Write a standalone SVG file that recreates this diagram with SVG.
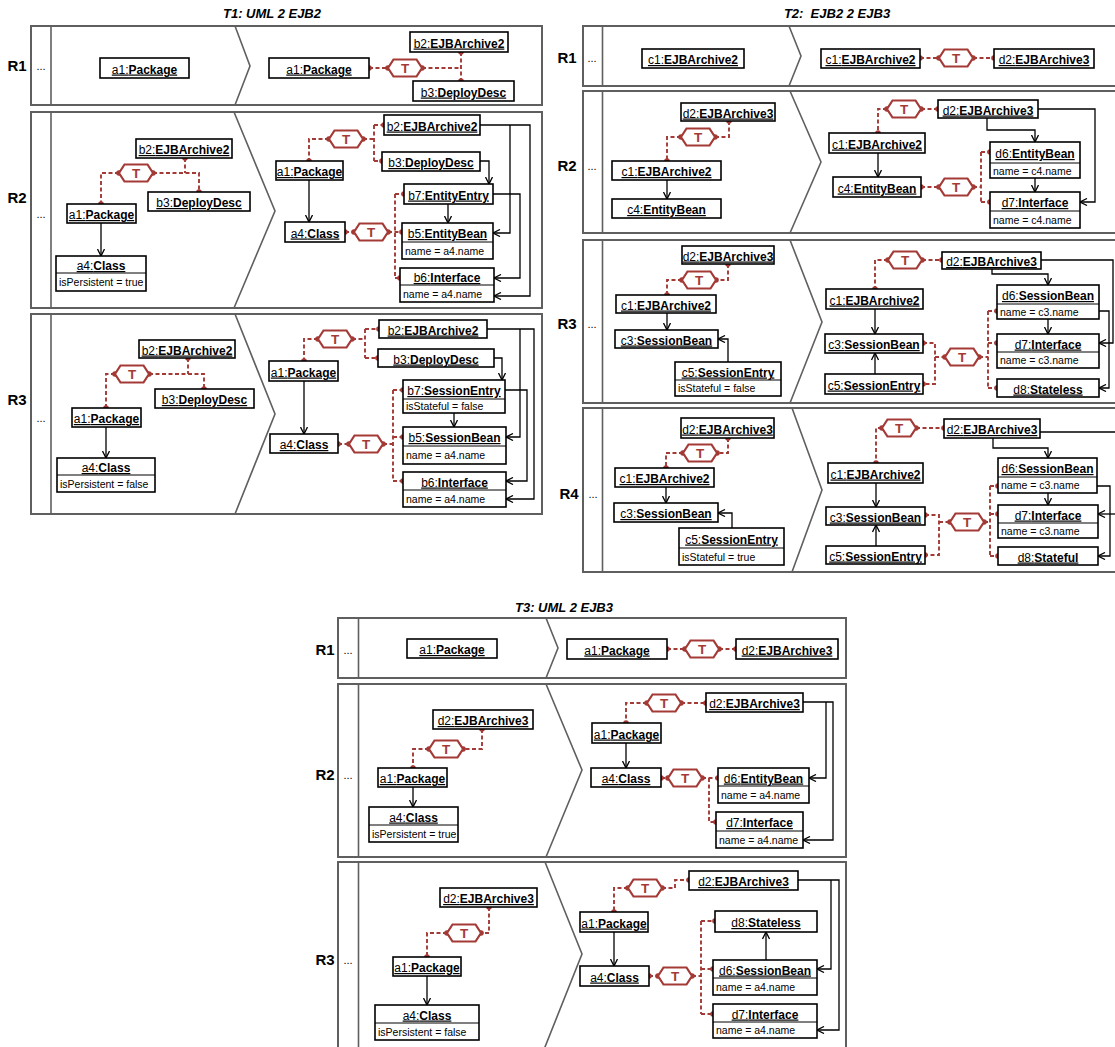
<svg xmlns="http://www.w3.org/2000/svg" xmlns:xlink="http://www.w3.org/1999/xlink" width="1115" height="1047" viewBox="0 0 1115 1047">
<style>
.bg{fill:#fff}
.panel{fill:none;stroke:#5f5f5f;stroke-width:2}
.dv{fill:none;stroke:#5f5f5f;stroke-width:1.6}
.box{fill:#fff;stroke:#000;stroke-width:1.6}
.sep{stroke:#000;stroke-width:1}
.hd{font-family:"Liberation Sans",Arial,sans-serif;font-size:12px;text-anchor:middle;text-decoration:underline;fill:#000;transform:translate(0px,1.5px)}
.b{font-weight:bold}
.at{font-family:"Liberation Sans",Arial,sans-serif;font-size:10.5px;fill:#000}
.rl{font-family:"Liberation Sans",Arial,sans-serif;font-size:15px;font-weight:bold;text-anchor:middle}
.dd{font-family:"Liberation Sans",Arial,sans-serif;font-size:11px;text-anchor:middle}
.ttl{font-family:"Liberation Sans",Arial,sans-serif;font-size:13px;font-weight:bold;font-style:italic;text-anchor:middle}
.tr{fill:none;stroke:#a33a36;stroke-width:1.9;stroke-dasharray:4 2.5}
.dot{fill:#a33a36}
.hex{fill:#fff;stroke:#a33a36;stroke-width:2.2}
.ht{font-family:"Liberation Sans",Arial,sans-serif;font-size:13.5px;font-weight:bold;fill:#a33a36;text-anchor:middle}
.ar{fill:none;stroke:#000;stroke-width:1.3;marker-end:url(#ah)}
</style>
<defs>
<marker id="ah" viewBox="0 0 8 8" refX="7.5" refY="4" markerWidth="8" markerHeight="8" markerUnits="userSpaceOnUse" orient="auto">
<path d="M0.5,0.5 L7.5,4 L0.5,7.5" fill="none" stroke="#000" stroke-width="1.3"/>
</marker>
<path id="hx" d="M-17,0 L-11.5,-8.5 L11.5,-8.5 L17,0 L11.5,8.5 L-11.5,8.5 Z"/>
</defs>
<rect class="bg" x="0" y="0" width="1115" height="1047"/>

<!-- titles -->
<text class="ttl" x="272" y="18">T1: UML 2 EJB2</text>
<text class="ttl" x="837" y="18" xml:space="preserve">T2:  EJB2 2 EJB3</text>
<text class="ttl" x="564" y="612">T3: UML 2 EJB3</text>

<!-- panels -->
<g id="panels">
<rect class="panel" x="31" y="26" width="511" height="79"/><line class="dv" x1="51" y1="26" x2="51" y2="105"/><polyline class="dv" points="235,26 250,66 235,105"/>
<rect class="panel" x="31" y="112" width="511" height="196"/><line class="dv" x1="51" y1="112" x2="51" y2="308"/><polyline class="dv" points="234,112 275,211 234,308"/>
<rect class="panel" x="31" y="314" width="511" height="200"/><line class="dv" x1="51" y1="314" x2="51" y2="514"/><polyline class="dv" points="235,314 275,414 235,514"/>
<rect class="panel" x="583" y="26" width="545" height="60"/><line class="dv" x1="602.5" y1="26" x2="602.5" y2="86"/><polyline class="dv" points="789,26 801,56 789,86"/>
<rect class="panel" x="583" y="91" width="545" height="142"/><line class="dv" x1="602.5" y1="91" x2="602.5" y2="233"/><polyline class="dv" points="790,91 821,162 790,233"/>
<rect class="panel" x="583" y="240" width="545" height="163"/><line class="dv" x1="602.5" y1="240" x2="602.5" y2="403"/><polyline class="dv" points="790,240 822,322 790,403"/>
<rect class="panel" x="583" y="408" width="545" height="164"/><line class="dv" x1="602.5" y1="408" x2="602.5" y2="572"/><polyline class="dv" points="792,408 822,490 792,572"/>
<rect class="panel" x="338" y="618" width="508" height="60"/><line class="dv" x1="358.5" y1="618" x2="358.5" y2="678"/><polyline class="dv" points="546,618 558,648 546,678"/>
<rect class="panel" x="338" y="684" width="508" height="173"/><line class="dv" x1="358.5" y1="684" x2="358.5" y2="857"/><polyline class="dv" points="546,684 582,770 546,857"/>
<rect class="panel" x="338" y="862" width="508" height="200"/><line class="dv" x1="358.5" y1="862" x2="358.5" y2="1062"/><polyline class="dv" points="545,862 582,954 543,1052"/>
</g>

<g id="labels">
<text class="rl" x="17" y="71">R1</text><text class="dd" x="41" y="70">...</text>
<text class="rl" x="17" y="203">R2</text><text class="dd" x="41" y="218">...</text>
<text class="rl" x="17" y="405">R3</text><text class="dd" x="41" y="422">...</text>
<text class="rl" x="567" y="63">R1</text><text class="dd" x="592" y="62">...</text>
<text class="rl" x="567" y="171">R2</text><text class="dd" x="592" y="170">...</text>
<text class="rl" x="567" y="329">R3</text><text class="dd" x="592" y="328">...</text>
<text class="rl" x="569" y="499">R4</text><text class="dd" x="593" y="498">...</text>
<text class="rl" x="325" y="655">R1</text><text class="dd" x="348" y="654">...</text>
<text class="rl" x="325" y="780">R2</text><text class="dd" x="348" y="779">...</text>
<text class="rl" x="325" y="965">R3</text><text class="dd" x="348" y="964">...</text>
</g>

<!-- connectors -->
<g id="connectors">
<!-- T1 R1 -->
<path class="tr" d="M369,68 H388 M422,68 H461 M461,52 V81"/>
<g class="dot"><circle cx="369" cy="68" r="2.8"/><circle cx="388" cy="68" r="2.8"/><circle cx="422" cy="68" r="2.8"/><circle cx="461" cy="52" r="2.8"/><circle cx="461" cy="81" r="2.8"/></g>
<!-- T1 R2 left -->
<path class="tr" d="M185,158 V173 M153,173 H199 V192 M119,173 H101 V204"/>
<g class="dot"><circle cx="185" cy="158" r="2.8"/><circle cx="153" cy="173" r="2.8"/><circle cx="199" cy="192" r="2.8"/><circle cx="119" cy="173" r="2.8"/><circle cx="101" cy="204" r="2.8"/></g>
<path class="ar" d="M101,223 V256"/>
<!-- T1 R2 right -->
<path class="tr" d="M329,139 H309 V161 M363,139 H374 M374,125 V161 M374,125 H384 M374,161 H382 M345,232 H354 M388,232 H402 M395,194 V278 M395,194 H404 M395,278 H400"/>
<g class="dot"><circle cx="329" cy="139" r="2.8"/><circle cx="309" cy="161" r="2.8"/><circle cx="363" cy="139" r="2.8"/><circle cx="384" cy="125" r="2.8"/><circle cx="382" cy="161" r="2.8"/><circle cx="345" cy="232" r="2.8"/><circle cx="354" cy="232" r="2.8"/><circle cx="388" cy="232" r="2.8"/><circle cx="402" cy="232" r="2.8"/><circle cx="404" cy="194" r="2.8"/><circle cx="400" cy="278" r="2.8"/></g>
<path class="ar" d="M309,180 V222"/>
<path class="ar" d="M480,125 H530 V296 H494"/>
<path class="ar" d="M510,125 V233 H493"/>
<path class="ar" d="M480,161 H489 V184"/>
<path class="ar" d="M493,194 H520 V278 H494"/>
<path class="ar" d="M448,204 V223"/>
<!-- T1 R3 left -->
<path class="tr" d="M188,358 V374 M149,374 H204 V389 M115,374 H106 V408"/>
<g class="dot"><circle cx="188" cy="358" r="2.8"/><circle cx="149" cy="374" r="2.8"/><circle cx="204" cy="389" r="2.8"/><circle cx="115" cy="374" r="2.8"/><circle cx="106" cy="408" r="2.8"/></g>
<path class="ar" d="M106,427 V458"/>
<!-- T1 R3 right -->
<path class="tr" d="M318,339 H304 V361 M352,339 H365 M365,329 V358 M365,329 H379 M365,358 H378 M338,444 H349 M383,444 H393 M393,390 V481 M393,390 H403 M393,437 H403 M393,481 H403"/>
<g class="dot"><circle cx="318" cy="339" r="2.8"/><circle cx="304" cy="361" r="2.8"/><circle cx="352" cy="339" r="2.8"/><circle cx="379" cy="329" r="2.8"/><circle cx="378" cy="358" r="2.8"/><circle cx="338" cy="444" r="2.8"/><circle cx="349" cy="444" r="2.8"/><circle cx="383" cy="444" r="2.8"/><circle cx="403" cy="390" r="2.8"/><circle cx="403" cy="437" r="2.8"/><circle cx="403" cy="481" r="2.8"/></g>
<path class="ar" d="M304,381 V434"/>
<path class="ar" d="M487,329 H534 V499 H506"/>
<path class="ar" d="M520,329 V437 H506"/>
<path class="ar" d="M494,358 H502 V380"/>
<path class="ar" d="M505,390 H527 V481 H506"/>
<path class="ar" d="M454,413 V427"/>
<!-- T2 R1 -->
<path class="tr" d="M920,58 H939 M973,58 H994"/>
<g class="dot"><circle cx="920" cy="58" r="2.8"/><circle cx="939" cy="58" r="2.8"/><circle cx="973" cy="58" r="2.8"/><circle cx="994" cy="58" r="2.8"/></g>
<!-- T2 R2 left -->
<path class="tr" d="M729,121 V137 H715 M681,137 H667 V161"/>
<g class="dot"><circle cx="729" cy="121" r="2.8"/><circle cx="715" cy="137" r="2.8"/><circle cx="681" cy="137" r="2.8"/><circle cx="667" cy="161" r="2.8"/></g>
<path class="ar" d="M667,180 V199"/>
<!-- T2 R2 right -->
<path class="tr" d="M887,109 H878 V133 M921,109 H938 M921,187 H939 M973,187 H981 M981,152 V202 M981,152 H990 M981,202 H990"/>
<g class="dot"><circle cx="887" cy="109" r="2.8"/><circle cx="878" cy="133" r="2.8"/><circle cx="921" cy="109" r="2.8"/><circle cx="938" cy="109" r="2.8"/><circle cx="921" cy="187" r="2.8"/><circle cx="939" cy="187" r="2.8"/><circle cx="973" cy="187" r="2.8"/><circle cx="990" cy="152" r="2.8"/><circle cx="990" cy="202" r="2.8"/></g>
<path class="ar" d="M878,153 V177"/>
<path class="ar" d="M1038,109 H1095 V202 H1080"/>
<path class="ar" d="M987,118 V130 H1035 V142"/>
<path class="ar" d="M1035,178 V192"/>
<!-- T2 R3 left -->
<path class="tr" d="M728,264 V280 H716 M682,280 H667 V295"/>
<g class="dot"><circle cx="728" cy="264" r="2.8"/><circle cx="716" cy="280" r="2.8"/><circle cx="682" cy="280" r="2.8"/><circle cx="667" cy="295" r="2.8"/></g>
<path class="ar" d="M667,313 V330"/>
<path class="ar" d="M728,362 V339 H718"/>
<!-- T2 R3 right -->
<path class="tr" d="M888,260 H875 V289 M922,260 H942 M923,343 H935 V384 H923 M935,357 H945 M979,357 H988 M988,311 V388 M988,311 H997 M988,343 H997 M988,388 H997"/>
<g class="dot"><circle cx="888" cy="260" r="2.8"/><circle cx="875" cy="289" r="2.8"/><circle cx="922" cy="260" r="2.8"/><circle cx="942" cy="260" r="2.8"/><circle cx="923" cy="343" r="2.8"/><circle cx="923" cy="384" r="2.8"/><circle cx="945" cy="357" r="2.8"/><circle cx="979" cy="357" r="2.8"/><circle cx="997" cy="311" r="2.8"/><circle cx="997" cy="343" r="2.8"/><circle cx="997" cy="388" r="2.8"/></g>
<path class="ar" d="M875,309 V334"/>
<path class="ar" d="M875,374 V353"/>
<path class="ar" d="M1041,260 H1113 V343 H1099"/>
<path class="ar" d="M992,269 V274 H1048 V285"/>
<path class="ar" d="M1048,319 V334"/>
<path class="ar" d="M1099,311 H1109 V388 H1099"/>
<!-- T2 R4 left -->
<path class="tr" d="M728,438 V453 H717 M683,453 H666 V468"/>
<g class="dot"><circle cx="728" cy="438" r="2.8"/><circle cx="717" cy="453" r="2.8"/><circle cx="683" cy="453" r="2.8"/><circle cx="666" cy="468" r="2.8"/></g>
<path class="ar" d="M666,487 V503"/>
<path class="ar" d="M732,528 V513 H718"/>
<!-- T2 R4 right -->
<path class="tr" d="M882,428 H876 V463 M916,428 H944 M925,515 H939 V555 H925 M939,522 H950 M984,522 H990 M990,486 V556 M990,486 H998 M990,514 H998 M990,556 H998"/>
<g class="dot"><circle cx="882" cy="428" r="2.8"/><circle cx="876" cy="463" r="2.8"/><circle cx="916" cy="428" r="2.8"/><circle cx="944" cy="428" r="2.8"/><circle cx="925" cy="515" r="2.8"/><circle cx="925" cy="555" r="2.8"/><circle cx="950" cy="522" r="2.8"/><circle cx="984" cy="522" r="2.8"/><circle cx="998" cy="486" r="2.8"/><circle cx="998" cy="514" r="2.8"/><circle cx="998" cy="556" r="2.8"/></g>
<path class="ar" d="M876,483 V507"/>
<path class="ar" d="M876,546 V525"/>
<path class="ar" d="M1040,432 H1125"/>
<path class="ar" d="M1125,514 H1098"/>
<path class="ar" d="M993,438 V448 H1048 V458"/>
<path class="ar" d="M1048,493 V505"/>
<path class="ar" d="M1097,486 H1110 V556 H1098"/>
<!-- T3 R1 -->
<path class="tr" d="M667,649 H685 M719,649 H736"/>
<g class="dot"><circle cx="667" cy="649" r="2.8"/><circle cx="685" cy="649" r="2.8"/><circle cx="719" cy="649" r="2.8"/><circle cx="736" cy="649" r="2.8"/></g>
<!-- T3 R2 left -->
<path class="tr" d="M482,729 V749 H463 M429,749 H413 V768"/>
<g class="dot"><circle cx="482" cy="729" r="2.8"/><circle cx="463" cy="749" r="2.8"/><circle cx="429" cy="749" r="2.8"/><circle cx="413" cy="768" r="2.8"/></g>
<path class="ar" d="M413,787 V807"/>
<!-- T3 R2 right -->
<path class="tr" d="M647,703 H626 V723 M681,703 H706 M661,778 H668 M702,778 H718 M709,778 V822 H716"/>
<g class="dot"><circle cx="647" cy="703" r="2.8"/><circle cx="626" cy="723" r="2.8"/><circle cx="681" cy="703" r="2.8"/><circle cx="706" cy="703" r="2.8"/><circle cx="661" cy="778" r="2.8"/><circle cx="668" cy="778" r="2.8"/><circle cx="702" cy="778" r="2.8"/><circle cx="718" cy="778" r="2.8"/><circle cx="716" cy="822" r="2.8"/></g>
<path class="ar" d="M626,743 V768"/>
<path class="ar" d="M803,702 H833 V840 H803"/>
<path class="ar" d="M826,702 V778 H809"/>
<!-- T3 R3 left -->
<path class="tr" d="M489,907 V933 H481 M447,933 H427 V957"/>
<g class="dot"><circle cx="489" cy="907" r="2.8"/><circle cx="481" cy="933" r="2.8"/><circle cx="447" cy="933" r="2.8"/><circle cx="427" cy="957" r="2.8"/></g>
<path class="ar" d="M427,976 V1005"/>
<!-- T3 R3 right -->
<path class="tr" d="M628,888 H614 V912 M662,888 H675 V880 H689 M649,976 H658 M692,976 H701 M701,921 V1014 M701,921 H715 M701,969 H713 M701,1014 H713"/>
<g class="dot"><circle cx="628" cy="888" r="2.8"/><circle cx="614" cy="912" r="2.8"/><circle cx="662" cy="888" r="2.8"/><circle cx="689" cy="880" r="2.8"/><circle cx="649" cy="976" r="2.8"/><circle cx="658" cy="976" r="2.8"/><circle cx="692" cy="976" r="2.8"/><circle cx="715" cy="921" r="2.8"/><circle cx="713" cy="969" r="2.8"/><circle cx="713" cy="1014" r="2.8"/></g>
<path class="ar" d="M614,932 V966"/>
<path class="ar" d="M798,880 H839 V1030 H817"/>
<path class="ar" d="M831,880 V969 H817"/>
<path class="ar" d="M766,960 V932"/>
</g>

<!-- transformation markers -->
<g id="t1r1-t"><use href="#hx" class="hex" x="405" y="68"/><text class="ht" x="405" y="73">T</text></g>
<g id="t1r2-tl"><use href="#hx" class="hex" x="136" y="173"/><text class="ht" x="136" y="178">T</text></g>
<g id="t1r2-tr1"><use href="#hx" class="hex" x="346" y="139"/><text class="ht" x="346" y="144">T</text></g>
<g id="t1r2-tr2"><use href="#hx" class="hex" x="371" y="232"/><text class="ht" x="371" y="237">T</text></g>
<g id="t1r3-tl"><use href="#hx" class="hex" x="132" y="374"/><text class="ht" x="132" y="379">T</text></g>
<g id="t1r3-tr1"><use href="#hx" class="hex" x="335" y="339"/><text class="ht" x="335" y="344">T</text></g>
<g id="t1r3-tr2"><use href="#hx" class="hex" x="366" y="444"/><text class="ht" x="366" y="449">T</text></g>
<g id="t2r1-t"><use href="#hx" class="hex" x="956" y="58"/><text class="ht" x="956" y="63">T</text></g>
<g id="t2r2-tl"><use href="#hx" class="hex" x="698" y="137"/><text class="ht" x="698" y="142">T</text></g>
<g id="t2r2-tr1"><use href="#hx" class="hex" x="904" y="109"/><text class="ht" x="904" y="114">T</text></g>
<g id="t2r2-tr2"><use href="#hx" class="hex" x="956" y="187"/><text class="ht" x="956" y="192">T</text></g>
<g id="t2r3-tl"><use href="#hx" class="hex" x="699" y="280"/><text class="ht" x="699" y="285">T</text></g>
<g id="t2r3-tr1"><use href="#hx" class="hex" x="905" y="260"/><text class="ht" x="905" y="265">T</text></g>
<g id="t2r3-tr2"><use href="#hx" class="hex" x="962" y="357"/><text class="ht" x="962" y="362">T</text></g>
<g id="t2r4-tl"><use href="#hx" class="hex" x="700" y="453"/><text class="ht" x="700" y="458">T</text></g>
<g id="t2r4-tr1"><use href="#hx" class="hex" x="899" y="428"/><text class="ht" x="899" y="433">T</text></g>
<g id="t2r4-tr2"><use href="#hx" class="hex" x="967" y="522"/><text class="ht" x="967" y="527">T</text></g>
<g id="t3r1-t"><use href="#hx" class="hex" x="702" y="649"/><text class="ht" x="702" y="654">T</text></g>
<g id="t3r2-tl"><use href="#hx" class="hex" x="446" y="749"/><text class="ht" x="446" y="754">T</text></g>
<g id="t3r2-tr1"><use href="#hx" class="hex" x="664" y="703"/><text class="ht" x="664" y="708">T</text></g>
<g id="t3r2-tr2"><use href="#hx" class="hex" x="685" y="778"/><text class="ht" x="685" y="783">T</text></g>
<g id="t3r3-tl"><use href="#hx" class="hex" x="464" y="933"/><text class="ht" x="464" y="938">T</text></g>
<g id="t3r3-tr1"><use href="#hx" class="hex" x="645" y="888"/><text class="ht" x="645" y="893">T</text></g>
<g id="t3r3-tr2"><use href="#hx" class="hex" x="675" y="976"/><text class="ht" x="675" y="981">T</text></g>

<!-- T1 R1 nodes -->
<g id="t1r1-a1-l"><rect class="box" x="100" y="58" width="89" height="20"/><text class="hd" x="144.5" y="72">a1:<tspan class="b">Package</tspan></text></g>
<g id="t1r1-a1-r"><rect class="box" x="269" y="58" width="100" height="20"/><text class="hd" x="319" y="72">a1:<tspan class="b">Package</tspan></text></g>
<g id="t1r1-b2"><rect class="box" x="410" y="32" width="98" height="20"/><text class="hd" x="459" y="46">b2:<tspan class="b">EJBArchive2</tspan></text></g>
<g id="t1r1-b3"><rect class="box" x="413" y="81" width="101" height="20"/><text class="hd" x="463.5" y="95">b3:<tspan class="b">DeployDesc</tspan></text></g>

<!-- T1 R2 nodes -->
<g id="t1r2-b2-l"><rect class="box" x="136" y="139" width="96" height="19"/><text class="hd" x="184" y="152.5">b2:<tspan class="b">EJBArchive2</tspan></text></g>
<g id="t1r2-b3-l"><rect class="box" x="148" y="192" width="102" height="19"/><text class="hd" x="199" y="205.5">b3:<tspan class="b">DeployDesc</tspan></text></g>
<g id="t1r2-a1-l"><rect class="box" x="67" y="204" width="69" height="19"/><text class="hd" x="101.5" y="217.5">a1:<tspan class="b">Package</tspan></text></g>
<g id="t1r2-a4-l"><rect class="box" x="56" y="256" width="90" height="35"/><line class="sep" x1="56" y1="273" x2="146" y2="273"/><text class="hd" x="101" y="268.5">a4:<tspan class="b">Class</tspan></text><text class="at" x="59" y="286">isPersistent = true</text></g>
<g id="t1r2-b2-r"><rect class="box" x="384" y="115" width="96" height="20"/><text class="hd" x="432" y="129">b2:<tspan class="b">EJBArchive2</tspan></text></g>
<g id="t1r2-b3-r"><rect class="box" x="382" y="152" width="98" height="19"/><text class="hd" x="431" y="165.5">b3:<tspan class="b">DeployDesc</tspan></text></g>
<g id="t1r2-a1-r"><rect class="box" x="276" y="161" width="67" height="19"/><text class="hd" x="309.5" y="174.5">a1:<tspan class="b">Package</tspan></text></g>
<g id="t1r2-a4-r"><rect class="box" x="285" y="222" width="60" height="20"/><text class="hd" x="315" y="236">a4:<tspan class="b">Class</tspan></text></g>
<g id="t1r2-b7"><rect class="box" x="404" y="184" width="89" height="20"/><text class="hd" x="448.5" y="198">b7:<tspan class="b">EntityEntry</tspan></text></g>
<g id="t1r2-b5"><rect class="box" x="402" y="223" width="91" height="36"/><line class="sep" x1="402" y1="242" x2="493" y2="242"/><text class="hd" x="447.5" y="236.5">b5:<tspan class="b">EntityBean</tspan></text><text class="at" x="405" y="254.5">name = a4.name</text></g>
<g id="t1r2-b6"><rect class="box" x="400" y="268" width="94" height="34"/><line class="sep" x1="400" y1="285" x2="494" y2="285"/><text class="hd" x="447" y="280.5">b6:<tspan class="b">Interface</tspan></text><text class="at" x="403" y="297.5">name = a4.name</text></g>

<!-- T1 R3 nodes -->
<g id="t1r3-b2-l"><rect class="box" x="139" y="340" width="96" height="18"/><text class="hd" x="187" y="353">b2:<tspan class="b">EJBArchive2</tspan></text></g>
<g id="t1r3-b3-l"><rect class="box" x="155" y="389" width="99" height="19"/><text class="hd" x="204.5" y="402.5">b3:<tspan class="b">DeployDesc</tspan></text></g>
<g id="t1r3-a1-l"><rect class="box" x="72" y="408" width="69" height="19"/><text class="hd" x="106.5" y="421.5">a1:<tspan class="b">Package</tspan></text></g>
<g id="t1r3-a4-l"><rect class="box" x="57" y="458" width="98" height="34"/><line class="sep" x1="57" y1="475" x2="155" y2="475"/><text class="hd" x="106" y="470.5">a4:<tspan class="b">Class</tspan></text><text class="at" x="60" y="487.5">isPersistent = false</text></g>
<g id="t1r3-b2-r"><rect class="box" x="379" y="320" width="108" height="18"/><text class="hd" x="433" y="333">b2:<tspan class="b">EJBArchive2</tspan></text></g>
<g id="t1r3-b3-r"><rect class="box" x="378" y="349" width="116" height="18"/><text class="hd" x="436" y="362">b3:<tspan class="b">DeployDesc</tspan></text></g>
<g id="t1r3-a1-r"><rect class="box" x="269" y="361" width="69" height="20"/><text class="hd" x="303.5" y="375">a1:<tspan class="b">Package</tspan></text></g>
<g id="t1r3-a4-r"><rect class="box" x="270" y="434" width="68" height="19"/><text class="hd" x="304" y="447.5">a4:<tspan class="b">Class</tspan></text></g>
<g id="t1r3-b7"><rect class="box" x="403" y="380" width="102" height="33"/><line class="sep" x1="403" y1="399" x2="505" y2="399"/><text class="hd" x="454" y="393.5">b7:<tspan class="b">SessionEntry</tspan></text><text class="at" x="406" y="410">isStateful = false</text></g>
<g id="t1r3-b5"><rect class="box" x="403" y="427" width="103" height="37"/><line class="sep" x1="403" y1="446" x2="506" y2="446"/><text class="hd" x="454.5" y="440.5">b5:<tspan class="b">SessionBean</tspan></text><text class="at" x="406" y="459">name = a4.name</text></g>
<g id="t1r3-b6"><rect class="box" x="403" y="472" width="103" height="35"/><line class="sep" x1="403" y1="490" x2="506" y2="490"/><text class="hd" x="454.5" y="485">b6:<tspan class="b">Interface</tspan></text><text class="at" x="406" y="502.5">name = a4.name</text></g>

<!-- T2 R1 nodes -->
<g id="t2r1-c1-l"><rect class="box" x="642" y="49" width="102" height="19"/><text class="hd" x="693" y="62.5">c1:<tspan class="b">EJBArchive2</tspan></text></g>
<g id="t2r1-c1-r"><rect class="box" x="821" y="49" width="99" height="19"/><text class="hd" x="870.5" y="62.5">c1:<tspan class="b">EJBArchive2</tspan></text></g>
<g id="t2r1-d2"><rect class="box" x="994" y="49" width="100" height="19"/><text class="hd" x="1044" y="62.5">d2:<tspan class="b">EJBArchive3</tspan></text></g>

<!-- T2 R2 nodes -->
<g id="t2r2-d2-l"><rect class="box" x="681" y="103" width="94" height="18"/><text class="hd" x="728" y="116">d2:<tspan class="b">EJBArchive3</tspan></text></g>
<g id="t2r2-c1-l"><rect class="box" x="612" y="161" width="109" height="19"/><text class="hd" x="666.5" y="174.5">c1:<tspan class="b">EJBArchive2</tspan></text></g>
<g id="t2r2-c4-l"><rect class="box" x="612" y="199" width="109" height="19"/><text class="hd" x="666.5" y="212.5">c4:<tspan class="b">EntityBean</tspan></text></g>
<g id="t2r2-d2-r"><rect class="box" x="938" y="100" width="100" height="18"/><text class="hd" x="988" y="113">d2:<tspan class="b">EJBArchive3</tspan></text></g>
<g id="t2r2-c1-r"><rect class="box" x="829" y="133" width="96" height="20"/><text class="hd" x="877" y="147">c1:<tspan class="b">EJBArchive2</tspan></text></g>
<g id="t2r2-c4-r"><rect class="box" x="833" y="177" width="88" height="20"/><text class="hd" x="877" y="191">c4:<tspan class="b">EntityBean</tspan></text></g>
<g id="t2r2-d6"><rect class="box" x="990" y="142" width="90" height="36"/><line class="sep" x1="990" y1="163" x2="1080" y2="163"/><text class="hd" x="1035" y="156.5">d6:<tspan class="b">EntityBean</tspan></text><text class="at" x="993" y="174.5">name = c4.name</text></g>
<g id="t2r2-d7"><rect class="box" x="990" y="192" width="90" height="36"/><line class="sep" x1="990" y1="211" x2="1080" y2="211"/><text class="hd" x="1035" y="205.5">d7:<tspan class="b">Interface</tspan></text><text class="at" x="993" y="223.5">name = c4.name</text></g>

<!-- T2 R3 nodes -->
<g id="t2r3-d2-l"><rect class="box" x="682" y="246" width="92" height="18"/><text class="hd" x="728" y="259">d2:<tspan class="b">EJBArchive3</tspan></text></g>
<g id="t2r3-c1-l"><rect class="box" x="616" y="295" width="100" height="18"/><text class="hd" x="666" y="308">c1:<tspan class="b">EJBArchive2</tspan></text></g>
<g id="t2r3-c3-l"><rect class="box" x="615" y="330" width="103" height="18"/><text class="hd" x="666.5" y="343">c3:<tspan class="b">SessionBean</tspan></text></g>
<g id="t2r3-c5-l"><rect class="box" x="675" y="362" width="106" height="34"/><line class="sep" x1="675" y1="380" x2="781" y2="380"/><text class="hd" x="728" y="375">c5:<tspan class="b">SessionEntry</tspan></text><text class="at" x="678" y="392">isStateful = false</text></g>
<g id="t2r3-d2-r"><rect class="box" x="942" y="252" width="99" height="17"/><text class="hd" x="991.5" y="264.5">d2:<tspan class="b">EJBArchive3</tspan></text></g>
<g id="t2r3-c1-r"><rect class="box" x="826" y="289" width="97" height="20"/><text class="hd" x="874.5" y="303">c1:<tspan class="b">EJBArchive2</tspan></text></g>
<g id="t2r3-c3-r"><rect class="box" x="825" y="334" width="98" height="19"/><text class="hd" x="874" y="347.5">c3:<tspan class="b">SessionBean</tspan></text></g>
<g id="t2r3-c5-r"><rect class="box" x="825" y="374" width="98" height="20"/><text class="hd" x="874" y="388">c5:<tspan class="b">SessionEntry</tspan></text></g>
<g id="t2r3-d6"><rect class="box" x="997" y="285" width="102" height="34"/><line class="sep" x1="997" y1="304" x2="1099" y2="304"/><text class="hd" x="1048" y="298.5">d6:<tspan class="b">SessionBean</tspan></text><text class="at" x="1000" y="315.5">name = c3.name</text></g>
<g id="t2r3-d7"><rect class="box" x="997" y="334" width="102" height="34"/><line class="sep" x1="997" y1="352" x2="1099" y2="352"/><text class="hd" x="1048" y="347">d7:<tspan class="b">Interface</tspan></text><text class="at" x="1000" y="364">name = c3.name</text></g>
<g id="t2r3-d8"><rect class="box" x="997" y="379" width="102" height="18"/><text class="hd" x="1048" y="392">d8:<tspan class="b">Stateless</tspan></text></g>

<!-- T2 R4 nodes -->
<g id="t2r4-d2-l"><rect class="box" x="681" y="418" width="93" height="20"/><text class="hd" x="727.5" y="432">d2:<tspan class="b">EJBArchive3</tspan></text></g>
<g id="t2r4-c1-l"><rect class="box" x="615" y="468" width="99" height="19"/><text class="hd" x="664.5" y="481.5">c1:<tspan class="b">EJBArchive2</tspan></text></g>
<g id="t2r4-c3-l"><rect class="box" x="614" y="503" width="104" height="19"/><text class="hd" x="666" y="516.5">c3:<tspan class="b">SessionBean</tspan></text></g>
<g id="t2r4-c5-l"><rect class="box" x="679" y="528" width="105" height="37"/><line class="sep" x1="679" y1="548" x2="784" y2="548"/><text class="hd" x="731.5" y="542">c5:<tspan class="b">SessionEntry</tspan></text><text class="at" x="682" y="560.5">isStateful = true</text></g>
<g id="t2r4-d2-r"><rect class="box" x="944" y="419" width="96" height="19"/><text class="hd" x="992" y="432.5">d2:<tspan class="b">EJBArchive3</tspan></text></g>
<g id="t2r4-c1-r"><rect class="box" x="828" y="463" width="95" height="20"/><text class="hd" x="875.5" y="477">c1:<tspan class="b">EJBArchive2</tspan></text></g>
<g id="t2r4-c3-r"><rect class="box" x="826" y="507" width="99" height="18"/><text class="hd" x="875.5" y="520">c3:<tspan class="b">SessionBean</tspan></text></g>
<g id="t2r4-c5-r"><rect class="box" x="826" y="546" width="99" height="18"/><text class="hd" x="875.5" y="559">c5:<tspan class="b">SessionEntry</tspan></text></g>
<g id="t2r4-d6"><rect class="box" x="998" y="458" width="99" height="35"/><line class="sep" x1="998" y1="477" x2="1097" y2="477"/><text class="hd" x="1047.5" y="471.5">d6:<tspan class="b">SessionBean</tspan></text><text class="at" x="1001" y="489">name = c3.name</text></g>
<g id="t2r4-d7"><rect class="box" x="998" y="505" width="100" height="33"/><line class="sep" x1="998" y1="523" x2="1098" y2="523"/><text class="hd" x="1048" y="518">d7:<tspan class="b">Interface</tspan></text><text class="at" x="1001" y="534.5">name = c3.name</text></g>
<g id="t2r4-d8"><rect class="box" x="998" y="547" width="100" height="18"/><text class="hd" x="1048" y="560">d8:<tspan class="b">Stateful</tspan></text></g>

<!-- T3 R1 nodes -->
<g id="t3r1-a1-l"><rect class="box" x="407" y="639" width="90" height="19"/><text class="hd" x="452" y="652.5">a1:<tspan class="b">Package</tspan></text></g>
<g id="t3r1-a1-r"><rect class="box" x="567" y="639" width="100" height="20"/><text class="hd" x="617" y="653">a1:<tspan class="b">Package</tspan></text></g>
<g id="t3r1-d2"><rect class="box" x="736" y="639" width="102" height="20"/><text class="hd" x="787" y="653">d2:<tspan class="b">EJBArchive3</tspan></text></g>

<!-- T3 R2 nodes -->
<g id="t3r2-d2-l"><rect class="box" x="433" y="710" width="100" height="19"/><text class="hd" x="483" y="723.5">d2:<tspan class="b">EJBArchive3</tspan></text></g>
<g id="t3r2-a1-l"><rect class="box" x="378" y="768" width="69" height="19"/><text class="hd" x="412.5" y="781.5">a1:<tspan class="b">Package</tspan></text></g>
<g id="t3r2-a4-l"><rect class="box" x="369" y="807" width="89" height="35"/><line class="sep" x1="369" y1="825" x2="458" y2="825"/><text class="hd" x="413.5" y="820">a4:<tspan class="b">Class</tspan></text><text class="at" x="372" y="837.5">isPersistent = true</text></g>
<g id="t3r2-d2-r"><rect class="box" x="706" y="693" width="97" height="19"/><text class="hd" x="754.5" y="706.5">d2:<tspan class="b">EJBArchive3</tspan></text></g>
<g id="t3r2-a1-r"><rect class="box" x="592" y="723" width="69" height="20"/><text class="hd" x="626.5" y="737">a1:<tspan class="b">Package</tspan></text></g>
<g id="t3r2-a4-r"><rect class="box" x="591" y="768" width="70" height="19"/><text class="hd" x="626" y="781.5">a4:<tspan class="b">Class</tspan></text></g>
<g id="t3r2-d6"><rect class="box" x="718" y="768" width="91" height="35"/><line class="sep" x1="718" y1="786" x2="809" y2="786"/><text class="hd" x="763.5" y="781">d6:<tspan class="b">EntityBean</tspan></text><text class="at" x="721" y="798.5">name = a4.name</text></g>
<g id="t3r2-d7"><rect class="box" x="716" y="812" width="87" height="36"/><line class="sep" x1="716" y1="831" x2="803" y2="831"/><text class="hd" x="759.5" y="825.5">d7:<tspan class="b">Interface</tspan></text><text class="at" x="719" y="843.5">name = a4.name</text></g>

<!-- T3 R3 nodes -->
<g id="t3r3-d2-l"><rect class="box" x="440" y="888" width="97" height="19"/><text class="hd" x="488.5" y="901.5">d2:<tspan class="b">EJBArchive3</tspan></text></g>
<g id="t3r3-a1-l"><rect class="box" x="393" y="957" width="68" height="19"/><text class="hd" x="427" y="970.5">a1:<tspan class="b">Package</tspan></text></g>
<g id="t3r3-a4-l"><rect class="box" x="375" y="1005" width="104" height="35"/><line class="sep" x1="375" y1="1023" x2="479" y2="1023"/><text class="hd" x="427" y="1018">a4:<tspan class="b">Class</tspan></text><text class="at" x="378" y="1035.5">isPersistent = false</text></g>
<g id="t3r3-d2-r"><rect class="box" x="689" y="871" width="109" height="19"/><text class="hd" x="743.5" y="884.5">d2:<tspan class="b">EJBArchive3</tspan></text></g>
<g id="t3r3-a1-r"><rect class="box" x="580" y="912" width="68" height="20"/><text class="hd" x="614" y="926">a1:<tspan class="b">Package</tspan></text></g>
<g id="t3r3-a4-r"><rect class="box" x="580" y="966" width="69" height="20"/><text class="hd" x="614.5" y="980">a4:<tspan class="b">Class</tspan></text></g>
<g id="t3r3-d8"><rect class="box" x="715" y="911" width="102" height="21"/><text class="hd" x="766" y="925.5">d8:<tspan class="b">Stateless</tspan></text></g>
<g id="t3r3-d6"><rect class="box" x="713" y="960" width="104" height="35"/><line class="sep" x1="713" y1="978" x2="817" y2="978"/><text class="hd" x="765" y="973">d6:<tspan class="b">SessionBean</tspan></text><text class="at" x="716" y="990.5">name = a4.name</text></g>
<g id="t3r3-d7"><rect class="box" x="713" y="1004" width="104" height="34"/><line class="sep" x1="713" y1="1022" x2="817" y2="1022"/><text class="hd" x="765" y="1017">d7:<tspan class="b">Interface</tspan></text><text class="at" x="716" y="1034">name = a4.name</text></g>
</svg>
